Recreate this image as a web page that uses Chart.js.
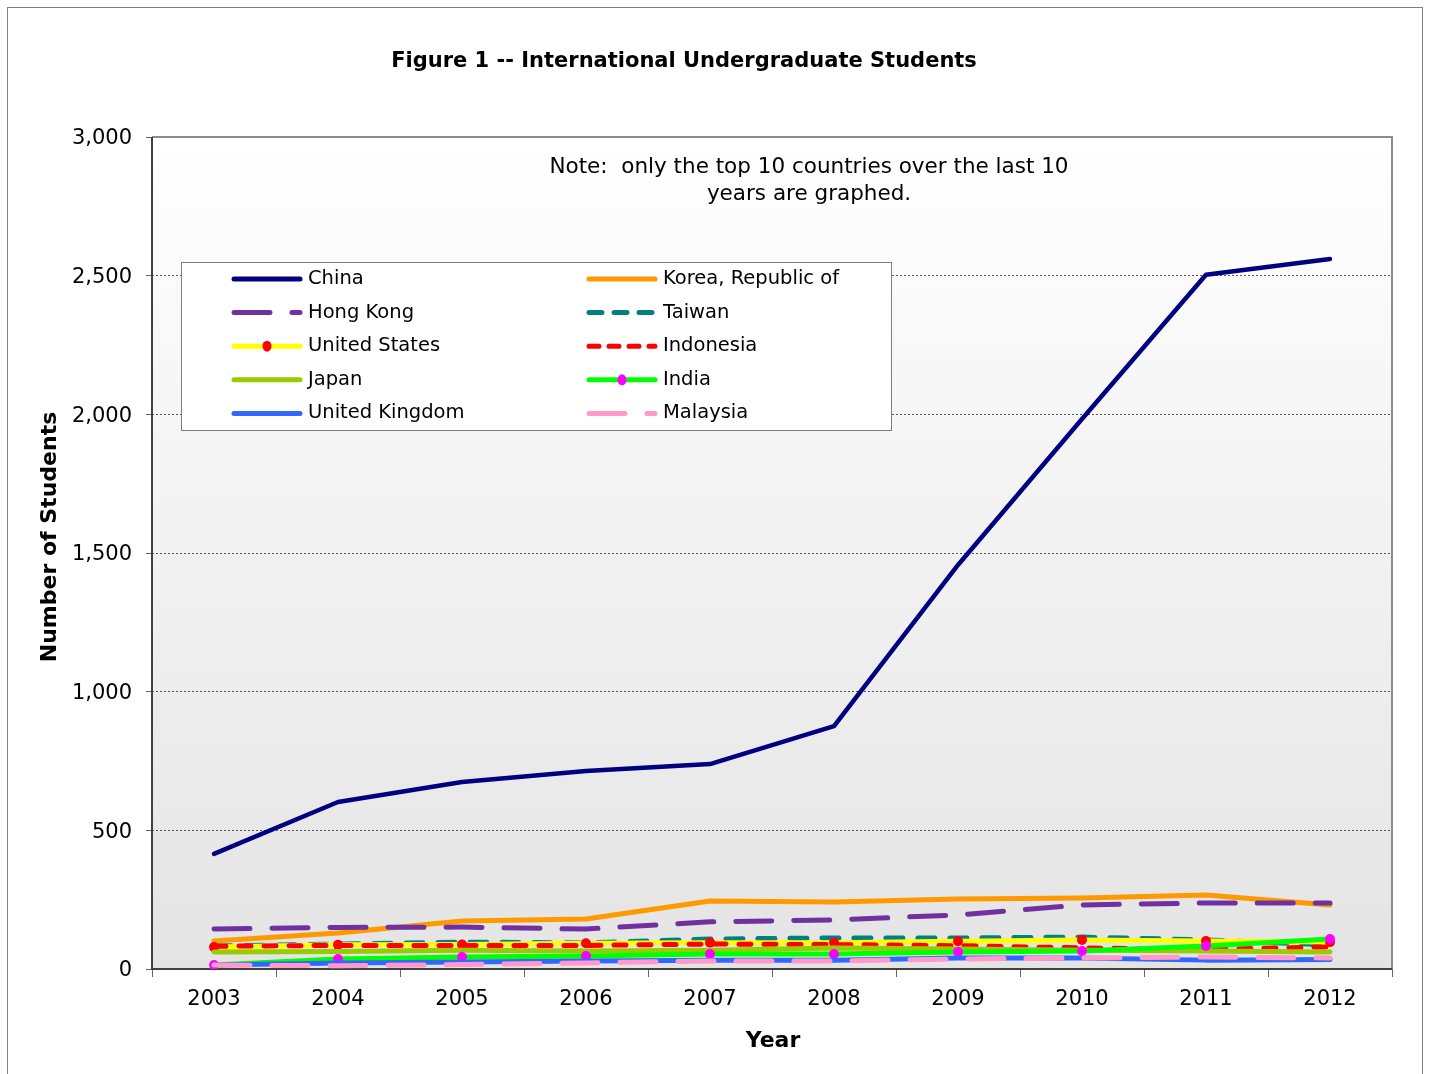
<!DOCTYPE html>
<html>
<head>
<meta charset="utf-8">
<script src="https://cdn.jsdelivr.net/npm/chart.js@4"></script>
<style>
	body { margin: 0; background: #fff; }
	#wrap { width: 1430px; height: 1074px; }
</style>
</head>
<body>
<div id="wrap"><canvas id="chart" width="1430" height="1074"></canvas></div>
<script>
const years = ["2003", "2004", "2005", "2006", "2007", "2008", "2009", "2010", "2011", "2012"];
const yTicks = [0, 500, 1000, 1500, 2000, 2500, 3000];

const china = [415, 602, 674, 714, 739, 876, 1457, 1983, 2503, 2560];
const korea = [101, 130, 173, 180, 245, 242, 252, 256, 267, 231];
const hongKong = [144, 150, 151, 144, 170, 177, 195, 231, 238, 238];
const taiwan = [83, 90, 97, 94, 108, 112, 112, 115, 105, 87];
const unitedStates = [79, 87, 88, 93, 95, 95, 100, 105, 101, 97];
const indonesia = [82, 85, 85, 85, 90, 88, 84, 76, 70, 80];
const japan = [61, 63, 68, 65, 68, 76, 72, 68, 65, 61];
const india = [14, 36, 43, 47, 54, 54, 61, 65, 83, 108];
const unitedKingdom = [14, 22, 25, 29, 32, 32, 40, 40, 32, 34];
const malaysia = [14, 12, 16, 22, 29, 29, 36, 40, 43, 40];

const countries = ["China", "Korea, Republic of", "Hong Kong", "Taiwan", "United States",
	"Indonesia", "Japan", "India", "United Kingdom", "Malaysia"];
const seriesValues = [china, korea, hongKong, taiwan, unitedStates, indonesia, japan, india, unitedKingdom, malaysia];
const lineColors = ["#000080", "#FF9900", "#7030A0", "#008080", "#FFFF00", "#FF0000", "#99CC00", "#00FF00", "#3366FF", "#FF99CC"];
const dashes = [[], [], [36, 22], [17, 15], [], [12, 13], [], [], [], [36, 22]];
const legendDashes = [[], [], [36, 22], [13, 12], [], [10, 10], [], [], [], [36, 22]];
const markerColors = [null, null, null, null, "#FF0000", null, null, "#FF00FF", null, null];

const FONT = '"DejaVu Sans", Verdana, sans-serif';

const datasets = countries.map((name, i) => ({
	label: name,
	data: seriesValues[i],
	borderColor: lineColors[i],
	backgroundColor: markerColors[i] || lineColors[i],
	borderWidth: i === 0 ? 4.5 : 5,
	borderDash: dashes[i],
	borderCapStyle: "round",
	borderJoinStyle: "round",
	pointRadius: markerColors[i] ? 5 : 0,
	pointBorderWidth: 0,
	pointBackgroundColor: markerColors[i] || lineColors[i],
	tension: 0,
	order: 10 - i
}));

const decor = {
	id: "decor",
	beforeDraw(chart) {
		const ctx = chart.ctx;
		const a = chart.chartArea;
		ctx.save();
		ctx.fillStyle = "#fff";
		ctx.fillRect(0, 0, chart.width, chart.height);
		ctx.strokeStyle = "#7f7f7f";
		ctx.lineWidth = 1;
		ctx.strokeRect(7.5, 7.5, 1415, 1080);
		const g = ctx.createLinearGradient(0, a.top, 0, a.bottom);
		g.addColorStop(0, "#ffffff");
		g.addColorStop(1, "#e4e4e4");
		ctx.fillStyle = g;
		ctx.fillRect(a.left, a.top, a.right - a.left, a.bottom - a.top);
		ctx.restore();
	},
	beforeDatasetsDraw(chart) {
		const ctx = chart.ctx;
		const a = chart.chartArea;
		ctx.save();
		ctx.lineWidth = 2;
		ctx.strokeStyle = "#8c8c8c";
		ctx.beginPath();
		ctx.moveTo(a.left, a.top);
		ctx.lineTo(a.right, a.top);
		ctx.lineTo(a.right, a.bottom);
		ctx.stroke();
		ctx.strokeStyle = "#404040";
		ctx.beginPath();
		ctx.moveTo(a.left, a.top);
		ctx.lineTo(a.left, a.bottom);
		ctx.lineTo(a.right, a.bottom);
		ctx.stroke();

		ctx.fillStyle = "#000";
		ctx.textAlign = "center";
		ctx.textBaseline = "middle";
		ctx.font = "bold 21px " + FONT;
		ctx.fillText("Figure 1 -- International Undergraduate Students", 684, 62);
		ctx.font = "21.5px " + FONT;
		ctx.fillText("Note:  only the top 10 countries over the last 10", 809, 167);
		ctx.fillText("years are graphed.", 809, 194);
		ctx.font = "bold 22px " + FONT;
		ctx.fillText("Year", 773, 1041);
		ctx.save();
		ctx.translate(50, 537);
		ctx.rotate(-Math.PI / 2);
		ctx.fillText("Number of Students", 0, 0);
		ctx.restore();
		ctx.restore();
	},
	afterDraw(chart) {
		const ctx = chart.ctx;
		ctx.save();
		ctx.fillStyle = "#fff";
		ctx.fillRect(181, 262, 710, 168);
		ctx.strokeStyle = "#7f7f7f";
		ctx.lineWidth = 1;
		ctx.strokeRect(181.5, 262.5, 710, 168);
		ctx.font = "19.5px " + FONT;
		ctx.textBaseline = "middle";
		ctx.textAlign = "left";
		chart.data.datasets.forEach((ds, i) => {
			const col = i % 2;
			const row = Math.floor(i / 2);
			const x0 = col === 0 ? 234 : 589;
			const y = 279 + row * 33.6;
			ctx.strokeStyle = ds.borderColor;
			ctx.lineWidth = 5;
			ctx.lineCap = "round";
			ctx.setLineDash(legendDashes[i]);
			ctx.beginPath();
			ctx.moveTo(x0, y);
			ctx.lineTo(x0 + 66, y);
			ctx.stroke();
			ctx.setLineDash([]);
			if (markerColors[i]) {
				ctx.fillStyle = markerColors[i];
				ctx.beginPath();
				ctx.ellipse(x0 + 33, y, 4.5, 5.5, 0, 0, Math.PI * 2);
				ctx.fill();
			}
			ctx.fillStyle = "#000";
			ctx.fillText(ds.label, x0 + 74, y);
		});
		ctx.restore();
	}
};

new Chart(document.getElementById("chart").getContext("2d"), {
	type: "line",
	data: { labels: years, datasets: datasets },
	options: {
		responsive: false,
		animation: false,
		layout: { padding: { left: 0, right: 38, top: 137, bottom: 0 } },
		plugins: { legend: { display: false }, tooltip: { enabled: false }, title: { display: false } },
		scales: {
			x: {
				offset: true,
				grid: { offset: true, drawOnChartArea: false, drawTicks: true, tickLength: 8, color: "#666", tickBorderDash: [] },
				border: { display: false },
				ticks: { color: "#000", font: { family: FONT, size: 21 }, padding: 10, maxRotation: 0 },
				afterFit(scale) { scale.height = 105; }
			},
			y: {
				min: 0,
				max: 3000,
				afterBuildTicks(scale) { scale.ticks = yTicks.map(v => ({ value: v })); },
				grid: { color: "#555", lineWidth: 1, tickLength: 6, tickColor: "#666", tickBorderDash: [] },
				border: { display: false, dash: [2, 2] },
				ticks: {
					color: "#000",
					font: { family: FONT, size: 21 },
					padding: 14,
					labelOffset: 2,
					callback: v => v.toLocaleString("en-US")
				},
				afterFit(scale) { scale.width = 152; }
			}
		}
	},
	plugins: [decor]
});
</script>
</body>
</html>
